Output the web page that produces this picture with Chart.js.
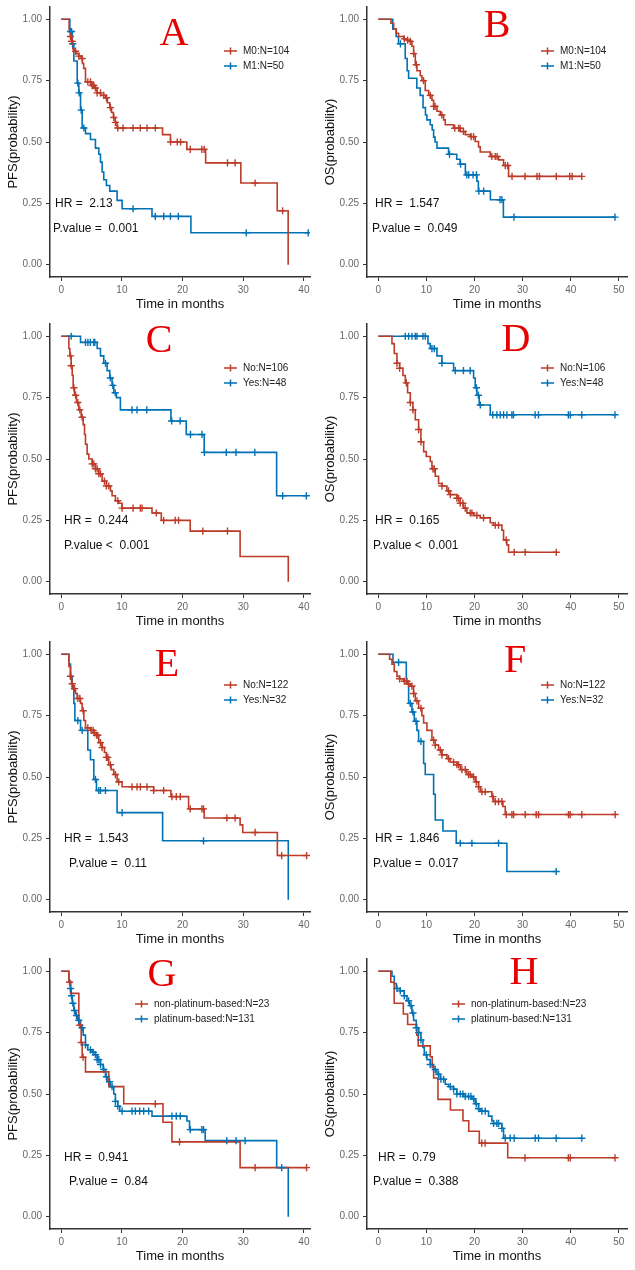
<!DOCTYPE html>
<html>
<head>
<meta charset="utf-8">
<script src="https://cdn.jsdelivr.net/npm/chart.js@4.4.1/dist/chart.umd.min.js"></script>
<style>
  body { margin: 0; background: #fff; }
  #wrap { position: relative; width: 635px; height: 1270px; }
  .panel { position: absolute; width: 317px; height: 317px; }
</style>
</head>
<body>
<div id="wrap"></div>
<script>
// A: PFS by M stage
const aRedTime = [1.3, 1.5, 1.7, 1.9, 2.1, 2.5, 2.9, 3.3, 3.5, 3.7, 4.0, 5.0, 5.5, 5.9, 6.5, 7.3, 7.6, 8.0, 8.3, 8.6, 8.9, 9.2, 16.7, 18.0, 20.7, 23.8, 29.6, 35.6, 37.4];
const aRedSurv = [0.96, 0.93, 0.91, 0.88, 0.87, 0.86, 0.85, 0.84, 0.82, 0.80, 0.745, 0.73, 0.72, 0.70, 0.69, 0.68, 0.66, 0.64, 0.62, 0.60, 0.58, 0.557, 0.53, 0.50, 0.47, 0.415, 0.333, 0.22, 0];
const aRedCens = [1.53, 1.7, 1.81, 2.36, 2.9, 3.45, 4.38, 4.82, 5.1, 5.37, 5.64, 5.92, 6.47, 7.01, 7.45, 8.11, 8.66, 8.93, 9.32, 10.19, 11.84, 13.04, 14.14, 15.51, 18.03, 19.12, 19.67, 21.26, 23.18, 23.56, 27.4, 28.66, 31.95, 36.49];
const aBlueTime = [1.42, 1.81, 2.08, 2.63, 2.9, 3.18, 3.45, 4.0, 4.82, 5.64, 6.19, 6.47, 6.74, 7.01, 7.45, 8.0, 9.21, 10.03, 14.96, 21.37];
const aBlueSurv = [0.95, 0.90, 0.83, 0.74, 0.70, 0.63, 0.557, 0.534, 0.51, 0.475, 0.45, 0.418, 0.378, 0.346, 0.323, 0.30, 0.262, 0.228, 0.197, 0.13];
const aBlueCens = [1.53, 1.7, 1.9, 2.74, 2.95, 3.29, 3.73, 11.84, 15.5, 16.9, 18.0, 19.3, 30.5, 40.7];

// B: OS by M stage
const bRedTime = [2.63, 3.19, 3.74, 4.22, 5.26, 5.96, 6.65, 6.99, 7.34, 7.69, 8.03, 8.73, 9.07, 9.76, 10.46, 11.15, 11.5, 12.19, 12.88, 13.57, 13.92, 15.65, 17.04, 18.07, 19.11, 20.15, 20.84, 21.19, 23.27, 25.0, 26.04, 27.08];
const bRedSurv = [0.984, 0.96, 0.943, 0.93, 0.92, 0.915, 0.91, 0.89, 0.86, 0.815, 0.79, 0.77, 0.75, 0.71, 0.69, 0.67, 0.645, 0.625, 0.61, 0.59, 0.57, 0.556, 0.543, 0.53, 0.522, 0.502, 0.48, 0.459, 0.441, 0.427, 0.404, 0.36];
const bRedCens = [5.4, 6.1, 6.65, 7.34, 7.9, 9.4, 10.8, 11.5, 11.8, 13.2, 15.9, 16.7, 17.0, 17.7, 19.3, 19.8, 23.6, 24.3, 24.7, 26.4, 26.9, 27.8, 30.5, 33.0, 33.5, 37.0, 39.8, 40.3, 42.3];
const bBlueTime = [3.0, 3.7, 4.2, 5.6, 6.0, 6.3, 8.0, 8.7, 9.3, 9.8, 10.1, 10.8, 11.2, 11.5, 11.8, 12.2, 14.6, 16.3, 17.0, 18.1, 20.5, 20.8, 23.3, 26.0];
const bBlueSurv = [0.96, 0.93, 0.90, 0.84, 0.79, 0.76, 0.72, 0.69, 0.64, 0.61, 0.59, 0.57, 0.55, 0.52, 0.50, 0.475, 0.45, 0.43, 0.41, 0.366, 0.34, 0.30, 0.265, 0.194];
const bBlueCens = [4.6, 14.8, 17.1, 18.4, 18.8, 19.7, 20.4, 20.9, 21.9, 25.3, 25.7, 28.2, 49.2];

// C: PFS, No / Yes
const cRedTime = [1.26, 1.42, 1.64, 1.81, 1.97, 2.19, 2.52, 2.9, 3.29, 3.62, 3.84, 4.0, 4.27, 4.55, 5.1, 5.64, 6.19, 6.74, 7.45, 8.11, 8.38, 8.93, 9.48, 10.03, 14.96, 16.49, 21.26, 29.48, 37.42];
const cRedSurv = [0.95, 0.92, 0.88, 0.84, 0.79, 0.76, 0.73, 0.70, 0.67, 0.64, 0.60, 0.56, 0.52, 0.50, 0.48, 0.46, 0.44, 0.41, 0.39, 0.37, 0.35, 0.33, 0.32, 0.30, 0.28, 0.25, 0.206, 0.103, 0];
const cRedCens = [1.53, 1.64, 2.08, 2.36, 2.74, 3.07, 3.45, 5.1, 5.37, 5.64, 5.92, 6.19, 6.47, 7.12, 7.45, 7.84, 9.32, 10.03, 11.84, 13.04, 13.32, 15.67, 16.88, 18.79, 19.34, 23.34, 27.4];
const cBlueTime = [3.18, 5.92, 6.47, 7.01, 7.56, 8.0, 8.38, 8.66, 9.1, 9.75, 18.08, 20.6, 23.56, 35.5];
const cBlueSurv = [0.975, 0.95, 0.92, 0.89, 0.86, 0.83, 0.80, 0.77, 0.75, 0.70, 0.655, 0.60, 0.527, 0.35];
const cBlueCens = [1.64, 4.0, 4.4, 4.8, 5.37, 5.53, 7.3, 8.1, 8.5, 8.9, 11.67, 12.5, 14.1, 18.2, 19.6, 21.3, 23.2, 23.6, 27.2, 28.8, 31.9, 36.5, 40.4];

// D: OS, No / Yes
const dRedTime = [2.84, 3.32, 3.88, 4.43, 5.12, 5.61, 6.09, 6.65, 7.2, 7.69, 8.38, 8.86, 9.42, 9.97, 10.8, 11.15, 11.84, 12.53, 13.23, 14.27, 14.96, 16.34, 17.04, 17.73, 18.42, 19.81, 21.19, 23.27, 23.96, 25.69, 26.04, 26.73, 27.08];
const dRedSurv = [0.97, 0.93, 0.89, 0.87, 0.84, 0.81, 0.77, 0.73, 0.70, 0.66, 0.62, 0.57, 0.53, 0.51, 0.49, 0.46, 0.43, 0.40, 0.39, 0.37, 0.355, 0.34, 0.32, 0.30, 0.28, 0.27, 0.26, 0.24, 0.23, 0.21, 0.17, 0.15, 0.12];
const dRedCens = [3.88, 4.43, 5.82, 6.65, 7.2, 8.38, 8.86, 11.36, 11.63, 13.23, 14.61, 14.96, 16.34, 16.69, 17.04, 17.59, 18.07, 19.11, 19.46, 20.5, 21.88, 24.31, 25.0, 26.59, 28.25, 30.54, 37.0];
const dBlueTime = [10.32, 10.8, 12.19, 13.23, 15.65, 19.81, 20.15, 20.5, 20.98, 23.27];
const dBlueSurv = [0.97, 0.95, 0.92, 0.89, 0.86, 0.83, 0.79, 0.76, 0.72, 0.68];
const dBlueCens = [5.61, 6.3, 6.99, 7.69, 8.03, 9.28, 9.76, 11.15, 11.63, 13.23, 16.0, 17.7, 19.1, 20.4, 20.8, 21.2, 23.8, 24.65, 25.35, 26.04, 26.73, 27.77, 28.1, 32.6, 33.3, 39.5, 39.9, 42.3, 49.2];

// E: PFS, No / Yes
const eRedTime = [1.26, 1.53, 1.7, 1.97, 2.36, 2.63, 3.18, 3.45, 3.73, 4.0, 4.82, 5.37, 5.81, 6.19, 6.74, 7.12, 7.45, 7.84, 8.22, 8.66, 9.21, 10.03, 15.23, 18.08, 20.99, 23.56, 29.48, 29.92, 35.62];
const eRedSurv = [0.95, 0.91, 0.88, 0.86, 0.84, 0.82, 0.80, 0.77, 0.73, 0.70, 0.69, 0.68, 0.67, 0.64, 0.62, 0.60, 0.58, 0.55, 0.53, 0.51, 0.48, 0.46, 0.445, 0.42, 0.37, 0.333, 0.305, 0.274, 0.18];
const eRedCens = [1.53, 1.81, 2.19, 2.74, 3.07, 3.62, 4.38, 4.93, 5.26, 5.48, 5.81, 6.03, 6.47, 6.74, 7.45, 7.67, 8.11, 8.93, 9.48, 11.67, 12.49, 13.04, 14.14, 15.23, 16.88, 18.25, 18.96, 19.62, 21.26, 23.18, 23.45, 27.29, 28.66, 31.95, 36.33, 40.44];
const eBlueTime = [1.26, 1.53, 1.81, 2.08, 2.25, 3.18, 4.38, 4.82, 5.37, 5.81, 9.21, 16.71, 37.42];
const eBlueSurv = [0.96, 0.91, 0.86, 0.80, 0.73, 0.69, 0.61, 0.57, 0.49, 0.445, 0.355, 0.24, 0];
const eBlueCens = [1.53, 2.74, 3.45, 5.64, 6.19, 6.47, 7.29, 10.03, 23.45];

// F: OS, No / Yes
const fRedTime = [2.35, 2.84, 3.32, 3.88, 4.43, 5.26, 6.09, 6.65, 7.34, 7.69, 8.38, 9.07, 9.42, 10.11, 11.15, 11.84, 12.53, 13.23, 14.27, 14.96, 16.34, 17.04, 18.42, 19.46, 20.15, 20.84, 21.19, 23.61, 23.96, 25.9, 26.39];
const fRedSurv = [0.98, 0.96, 0.93, 0.91, 0.90, 0.89, 0.88, 0.87, 0.84, 0.81, 0.78, 0.75, 0.72, 0.69, 0.65, 0.63, 0.61, 0.59, 0.575, 0.56, 0.55, 0.53, 0.51, 0.50, 0.48, 0.46, 0.44, 0.42, 0.40, 0.38, 0.347];
const fRedCens = [4.43, 5.4, 5.96, 6.3, 6.99, 7.34, 8.03, 8.86, 11.5, 11.84, 12.88, 13.23, 14.61, 15.65, 16.34, 16.69, 17.38, 18.07, 18.77, 19.11, 19.81, 20.36, 20.84, 21.54, 22.23, 23.82, 24.31, 25.0, 25.69, 26.59, 27.77, 28.12, 30.54, 32.82, 33.31, 39.54, 39.89, 42.31, 49.24];
const fBlueTime = [3.05, 5.82, 6.3, 6.99, 7.48, 8.03, 8.38, 9.42, 9.76, 11.5, 11.84, 13.43, 16.2, 26.73];
const fBlueSurv = [0.967, 0.88, 0.80, 0.765, 0.727, 0.69, 0.645, 0.555, 0.51, 0.43, 0.325, 0.28, 0.23, 0.115];
const fBlueCens = [4.22, 6.65, 7.2, 7.83, 8.86, 17.04, 19.46, 25.0, 36.98];

// G: PFS, non-platinum / platinum
const gRedTime = [1.26, 1.53, 2.9, 3.29, 3.45, 4.0, 7.84, 10.3, 16.77, 18.25, 29.48];
const gRedSurv = [0.955, 0.91, 0.78, 0.71, 0.65, 0.59, 0.53, 0.46, 0.385, 0.305, 0.20];
const gRedCens = [1.37, 3.07, 3.3, 3.6, 15.5, 19.5, 31.95, 40.44];
const gBlueTime = [1.26, 1.53, 1.64, 1.81, 2.08, 2.36, 2.63, 3.18, 3.62, 4.0, 4.38, 5.1, 5.64, 5.92, 6.47, 6.9, 7.29, 7.56, 8.11, 8.66, 8.93, 9.32, 9.64, 14.96, 20.71, 21.15, 23.73, 35.51, 37.42];
const gBlueSurv = [0.96, 0.93, 0.90, 0.87, 0.84, 0.82, 0.80, 0.77, 0.74, 0.70, 0.68, 0.67, 0.66, 0.64, 0.62, 0.60, 0.57, 0.55, 0.53, 0.50, 0.47, 0.45, 0.43, 0.41, 0.39, 0.355, 0.31, 0.20, 0];
const gBlueCens = [1.53, 1.7, 1.92, 2.19, 2.52, 2.9, 3.45, 4.0, 4.82, 5.26, 5.64, 5.92, 6.19, 6.47, 7.01, 7.45, 7.99, 8.38, 8.93, 9.32, 10.03, 11.67, 12.22, 12.93, 13.59, 14.41, 18.25, 18.96, 19.62, 21.26, 23.18, 23.45, 27.29, 28.82, 30.3, 36.33];

// H: OS, non-platinum / platinum
const hRedTime = [2.6, 3.3, 5.2, 6.1, 8.0, 8.3, 10.8, 11.2, 11.5, 12.4, 15.0, 17.6, 18.8, 21.0, 26.9];
const hRedSurv = [0.955, 0.87, 0.826, 0.783, 0.74, 0.696, 0.652, 0.609, 0.565, 0.478, 0.435, 0.391, 0.348, 0.30, 0.24];
const hRedCens = [21.5, 22.2, 30.5, 39.5, 39.9, 49.2];
const hBlueTime = [2.84, 3.32, 3.74, 4.57, 5.4, 5.96, 6.51, 6.99, 7.34, 7.89, 8.38, 8.86, 9.28, 9.56, 10.11, 10.8, 11.5, 12.19, 12.88, 13.92, 14.61, 15.65, 16.34, 17.73, 19.46, 20.15, 20.84, 21.19, 22.92, 23.61, 23.96, 25.69, 26.04];
const hBlueSurv = [0.98, 0.95, 0.93, 0.92, 0.90, 0.88, 0.86, 0.83, 0.80, 0.77, 0.75, 0.72, 0.69, 0.66, 0.64, 0.62, 0.60, 0.58, 0.56, 0.54, 0.53, 0.52, 0.50, 0.49, 0.48, 0.46, 0.44, 0.43, 0.41, 0.39, 0.38, 0.36, 0.32];
const hBlueCens = [3.88, 4.57, 5.4, 6.3, 6.79, 7.2, 7.89, 8.38, 8.86, 9.97, 10.8, 11.84, 12.53, 13.02, 13.57, 14.96, 15.65, 16.34, 17.04, 17.59, 18.07, 18.77, 19.25, 19.81, 20.36, 20.84, 21.54, 22.23, 23.96, 24.65, 25.0, 25.69, 26.39, 27.42, 28.25, 32.62, 33.31, 36.98, 42.31];

const panelLetters = ['A', 'B', 'C', 'D', 'E', 'F', 'G', 'H'];
const yTitles = ['PFS(probability)', 'OS(probability)', 'PFS(probability)', 'OS(probability)',
                 'PFS(probability)', 'OS(probability)', 'PFS(probability)', 'OS(probability)'];
const groupLabels = [
  ['M0:N=104', 'M1:N=50'], ['M0:N=104', 'M1:N=50'],
  ['No:N=106', 'Yes:N=48'], ['No:N=106', 'Yes:N=48'],
  ['No:N=122', 'Yes:N=32'], ['No:N=122', 'Yes:N=32'],
  ['non-platinum-based:N=23', 'platinum-based:N=131'], ['non-platinum-based:N=23', 'platinum-based:N=131']
];
const hrLabels = ['HR =  2.13', 'HR =  1.547', 'HR =  0.244', 'HR =  0.165', 'HR =  1.543', 'HR =  1.846', 'HR =  0.941', 'HR =  0.79'];
const pLabels = ['P.value =  0.001', 'P.value =  0.049', 'P.value <  0.001', 'P.value <  0.001',
                 'P.value =  0.11', 'P.value =  0.017', 'P.value =  0.84', 'P.value =  0.388'];

const seriesList = [
  [[aRedTime, aRedSurv, aRedCens], [aBlueTime, aBlueSurv, aBlueCens]],
  [[bRedTime, bRedSurv, bRedCens], [bBlueTime, bBlueSurv, bBlueCens]],
  [[cRedTime, cRedSurv, cRedCens], [cBlueTime, cBlueSurv, cBlueCens]],
  [[dRedTime, dRedSurv, dRedCens], [dBlueTime, dBlueSurv, dBlueCens]],
  [[eRedTime, eRedSurv, eRedCens], [eBlueTime, eBlueSurv, eBlueCens]],
  [[fRedTime, fRedSurv, fRedCens], [fBlueTime, fBlueSurv, fBlueCens]],
  [[gRedTime, gRedSurv, gRedCens], [gBlueTime, gBlueSurv, gBlueCens]],
  [[hRedTime, hRedSurv, hRedCens], [hBlueTime, hBlueSurv, hBlueCens]]
];

// placement of the text overlays inside each panel (pixels)
const panelLayout = [
  { letter: [174, 45], legend: [224, 51], hr: [55, 204], p: [53, 229] },
  { letter: [180, 37], legend: [224, 51], hr: [58, 204], p: [55, 229] },
  { letter: [159, 35], legend: [224, 51], hr: [64, 204], p: [64, 229] },
  { letter: [199, 34], legend: [224, 51], hr: [58, 204], p: [56, 229] },
  { letter: [167, 41], legend: [224, 50], hr: [64, 204], p: [69, 229] },
  { letter: [198, 37], legend: [224, 50], hr: [58, 204], p: [56, 229] },
  { letter: [162, 34], legend: [135, 52], hr: [64, 206], p: [69, 230] },
  { letter: [207, 32], legend: [135, 52], hr: [61, 206], p: [56, 230] }
];

const RED = '#BC3C29';
const BLUE = '#0072B5';
const SANS = '"Liberation Sans", Arial, Helvetica, sans-serif';
Chart.defaults.font.family = SANS;

function survAt(times, surv, t) {
  let s = 1;
  for (let i = 0; i < times.length; i++) if (times[i] <= t) s = surv[i];
  return s;
}
function curve(times, surv, cens) {
  const pts = [{ x: 0, y: 1 }];
  times.forEach((t, i) => pts.push({ x: t, y: surv[i] }));
  const last = Math.max(...cens);
  if (last > times[times.length - 1]) pts.push({ x: last, y: surv[surv.length - 1] });
  return pts;
}
function marks(times, surv, cens) {
  return cens.map(t => ({ x: t, y: survAt(times, surv, t) }));
}

const overlay = {
  id: 'overlay',
  afterDatasetsDraw(chart, args, o) {
    const ctx = chart.ctx;
    const L = o.layout;
    ctx.save();
    ctx.fillStyle = '#e60000';
    ctx.font = '40px "Liberation Serif", "Times New Roman", serif';
    ctx.textAlign = 'center';
    ctx.textBaseline = 'alphabetic';
    ctx.fillText(o.letter, L.letter[0], L.letter[1]);

    ctx.font = '10px ' + SANS;
    ctx.textAlign = 'left';
    ctx.textBaseline = 'middle';
    [RED, BLUE].forEach((col, i) => {
      const x = L.legend[0], y = L.legend[1] + i * 15;
      ctx.strokeStyle = col;
      ctx.lineWidth = 1.5;
      ctx.beginPath();
      ctx.moveTo(x, y); ctx.lineTo(x + 13, y);
      ctx.moveTo(x + 6.5, y - 3.5); ctx.lineTo(x + 6.5, y + 3.5);
      ctx.stroke();
      ctx.fillStyle = '#222';
      ctx.fillText(o.labels[i], x + 19, y);
    });

    ctx.font = '12px ' + SANS;
    ctx.fillStyle = '#111';
    ctx.fillText(o.hr, L.hr[0], L.hr[1]);
    ctx.fillText(o.p, L.p[0], L.p[1]);
    ctx.restore();
  }
};

const wrap = document.getElementById('wrap');
panelLetters.forEach((letter, k) => {
  const col = k % 2, row = Math.floor(k / 2);
  const isOS = col === 1;
  const div = document.createElement('div');
  div.className = 'panel';
  div.style.left = (col * 317) + 'px';
  div.style.top = [0, 317, 635, 952][row] + 'px';
  const canvas = document.createElement('canvas');
  canvas.width = 317; canvas.height = 317;
  div.appendChild(canvas);
  wrap.appendChild(div);

  const [red, blue] = seriesList[k];
  const lineDs = (s, c) => ({ data: curve(...s), borderColor: c, borderWidth: 1.6, stepped: true, pointRadius: 0, fill: false });
  const markDs = (s, c) => ({ data: marks(...s), borderColor: c, backgroundColor: c, showLine: false, pointStyle: 'cross', pointRadius: 3.6, borderWidth: 1.4 });

  new Chart(canvas, {
    type: 'line',
    data: { datasets: [markDs(red, RED), markDs(blue, BLUE), lineDs(red, RED), lineDs(blue, BLUE)] },
    options: {
      responsive: false,
      animation: false,
      devicePixelRatio: 1,
      events: [],
      layout: { padding: { top: 7, right: 7, left: 0, bottom: 0 } },
      plugins: {
        legend: { display: false },
        tooltip: { enabled: false },
        overlay: { letter, labels: groupLabels[k], hr: hrLabels[k], p: pLabels[k], layout: panelLayout[k] }
      },
      scales: {
        x: {
          type: 'linear',
          min: isOS ? -2.35 : -1.85,
          max: isOS ? 51.7 : 41.0,
          afterFit: s => { s.height = 40; s.paddingLeft = 0; s.paddingRight = 0; },
          ticks: { stepSize: 10, includeBounds: false, color: '#666', font: { size: 10 }, padding: 3, maxRotation: 0 },
          grid: { drawOnChartArea: false, tickLength: 4, color: '#333' },
          border: { color: '#333', width: 1.5 },
          title: { display: true, text: 'Time in months', color: '#111', font: { size: 13 }, padding: { top: 0, bottom: 5 } }
        },
        y: {
          min: -0.05,
          max: 1.05,
          afterFit: s => { s.width = 50; s.paddingTop = 0; s.paddingBottom = 0; },
          ticks: { stepSize: 0.25, includeBounds: false, color: '#666', font: { size: 10 }, padding: 4, callback: v => v.toFixed(2) },
          grid: { drawOnChartArea: false, tickLength: 4, color: '#333' },
          border: { color: '#333', width: 1.5 },
          title: { display: true, text: yTitles[k], color: '#111', font: { size: 13 }, padding: { top: 6, bottom: 0 } }
        }
      }
    },
    plugins: [overlay]
  });
});
</script>
</body>
</html>
